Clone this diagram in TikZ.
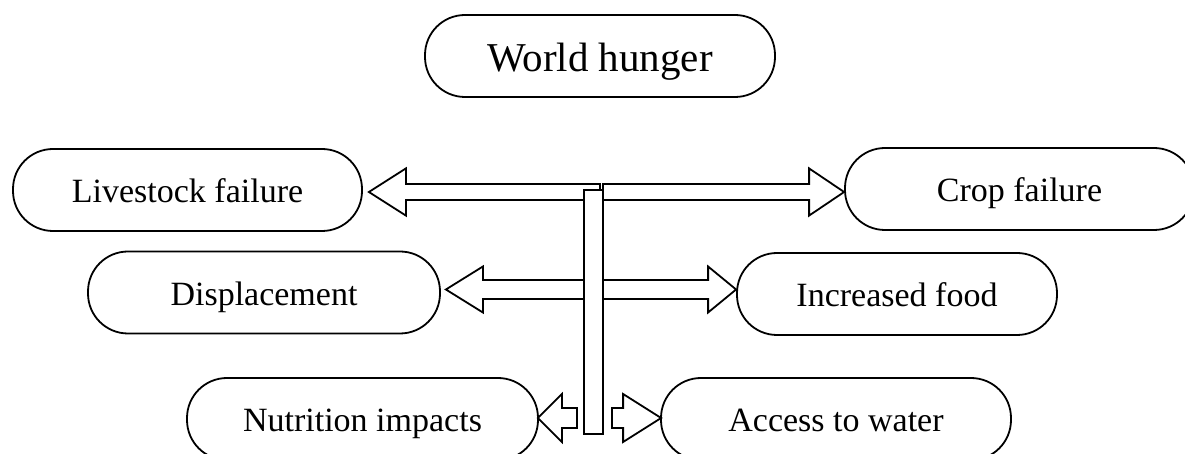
\documentclass[tikz,border=0pt]{standalone}
\usepackage{fontspec}
\setmainfont{Liberation Serif}
\usepackage{tikz}
\usetikzlibrary{calc}
\tikzset{
  cause/.style={draw, line width=.9pt, rounded corners=20pt, minimum height=41pt,
    inner sep=0pt, text height=13pt, text depth=0pt, font=\fontsize{17}{20}\selectfont},
  arrowline/.style={draw, fill=white, line width=.9pt, line join=miter}
}
% fat arrow: tail, tip, shaft half width, head half width, head length
\newcommand{\fatarrow}[5]{%
  \path[arrowline] let \p1=(#1), \p2=(#2), \n1={sign(\x2-\x1)} in
    (\x1,\y2+#3) -- (\x2-\n1*#5,\y2+#3) -- (\x2-\n1*#5,\y2+#4) -- (\x2,\y2)
    -- (\x2-\n1*#5,\y2-#4) -- (\x2-\n1*#5,\y2-#3) -- (\x1,\y2-#3) -- cycle;}

\begin{document}
\begin{tikzpicture}[x=.5pt,y=-.5pt]
	\useasboundingbox (0,0) rectangle (1185,454);
	\clip (0,0) rectangle (1185,454);
	
	\node[cause, minimum width=175pt, text height=16pt, font=\fontsize{20.5}{24}\selectfont]
	   (hunger) at (600,56) {World hunger};
	
	\node[cause, minimum width=174.5pt] (live)  at (187.5,190) {Livestock failure};
	\node[cause, minimum width=174.5pt] (crop)  at (1019.5,189) {Crop failure};
	\node[cause, minimum width=176pt]   (disp)  at (264,292.5) {Displacement};
	\node[cause, minimum width=160pt]   (food)  at (897,294) {Increased food};
	\node[cause, minimum width=175.5pt] (nutr)  at (362.5,419) {Nutrition impacts};
	\node[cause, minimum width=175pt]   (water) at (836,419) {Access to water};
	
	% tails at the bar
	\coordinate (t1l) at (600,192);
	\coordinate (t1r) at (603,192);
	\coordinate (t2l) at (590,289.5);
	\coordinate (t2r) at (603,289.5);
	\coordinate (t3l) at (577,418);
	\coordinate (t3r) at (612,418);
	
	\fatarrow{t1l}{$(live.east)+(6,2)$}{4pt}{11.8pt}{18.5pt}
	\fatarrow{t1r}{$(crop.west)+(0,3)$}{4pt}{11.8pt}{17.5pt}
	\fatarrow{t2l}{$(disp.east)+(5,-3)$}{4.75pt}{11.5pt}{18.5pt}
	\fatarrow{t2r}{$(food.west)+(0,-4.5)$}{4.75pt}{11.5pt}{14pt}
	\fatarrow{t3l}{$(nutr.east)+(-1,-1)$}{5pt}{12pt}{12pt}
	\fatarrow{t3r}{$(water.west)+(1,-1)$}{5pt}{12pt}{19pt}
	
	\draw[arrowline] (584,190) rectangle (603,434);
	
\end{tikzpicture}
\end{document}
